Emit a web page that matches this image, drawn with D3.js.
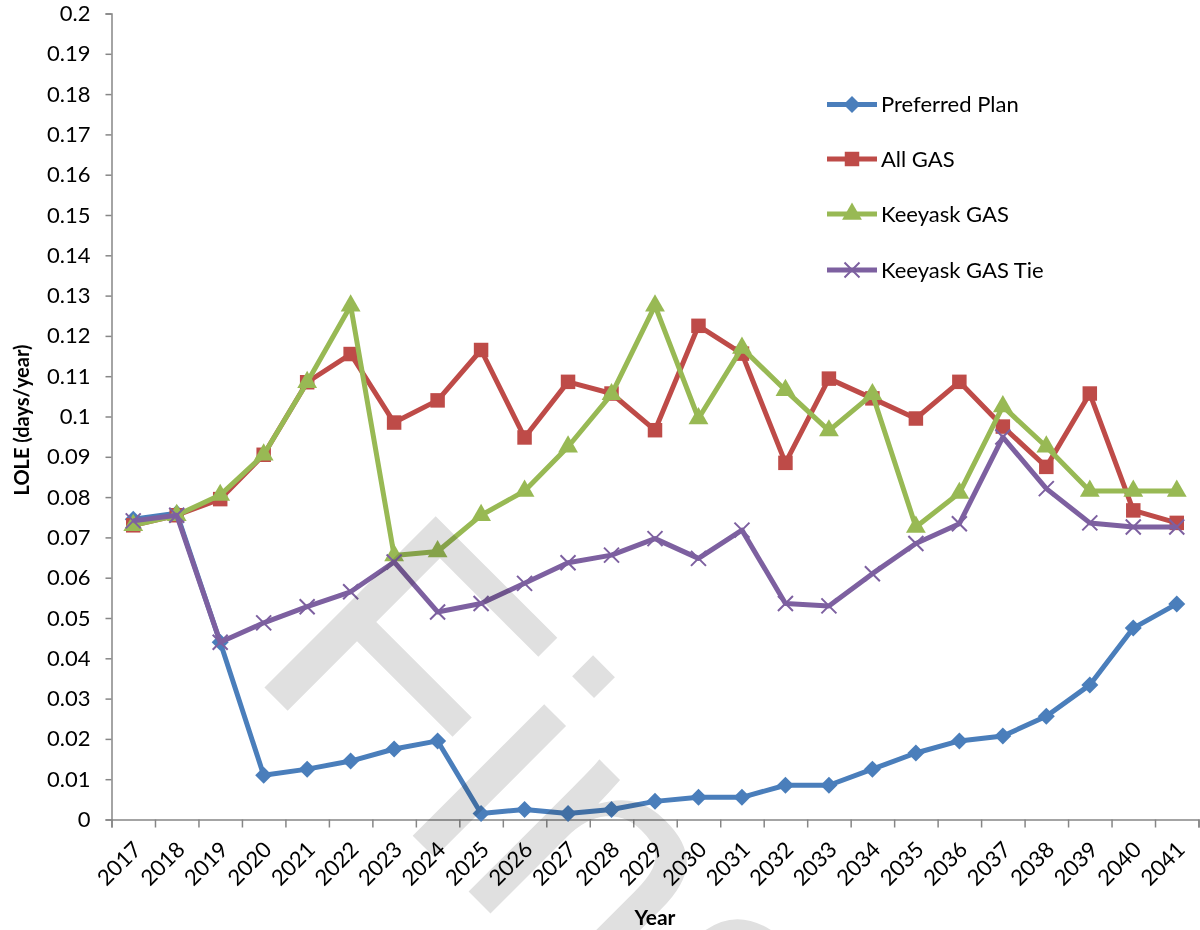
<!DOCTYPE html>
<html>
<head>
<meta charset="utf-8">
<script src="https://cdn.jsdelivr.net/npm/d3@7"></script>
<style>
  html, body { margin: 0; padding: 0; background: #fff; }
  svg { display: block; font-family: Lato, "Open Sans", sans-serif; }
</style>
</head>
<body>
<svg id="chart" width="1200" height="930"></svg>
<script>
// Loss of load expectation by year for four resource plans
const years = ["2017","2018","2019","2020","2021","2022","2023","2024","2025","2026","2027","2028","2029",
               "2030","2031","2032","2033","2034","2035","2036","2037","2038","2039","2040","2041"];

const preferredPlan = [0.0745, 0.076, 0.044, 0.011, 0.0125, 0.0145, 0.0175, 0.0195, 0.0015, 0.0025, 0.0015, 0.0025, 0.0045,
                       0.0055, 0.0055, 0.0085, 0.0085, 0.0125, 0.0165, 0.0195, 0.0207, 0.0256, 0.0334, 0.0475, 0.0535];
const allGas        = [0.073, 0.0755, 0.0795, 0.0905, 0.1085, 0.1155, 0.0985, 0.104, 0.1165, 0.0948, 0.1086, 0.1057, 0.0966,
                       0.1225, 0.1156, 0.0885, 0.1094, 0.1045, 0.0995, 0.1086, 0.0975, 0.0875, 0.1057, 0.0767, 0.0736];
const keeyaskGas    = [0.073, 0.0755, 0.0805, 0.0905, 0.1085, 0.1275, 0.0655, 0.0665, 0.0755, 0.0815, 0.0925, 0.1055, 0.1275,
                       0.0995, 0.117, 0.1065, 0.0965, 0.1055, 0.0726, 0.081, 0.1025, 0.0925, 0.0815, 0.0815, 0.0815];
const keeyaskGasTie = [0.0741, 0.0755, 0.044, 0.0488, 0.0528, 0.0565, 0.0639, 0.0515, 0.0536, 0.0586, 0.0637, 0.0656, 0.0697,
                       0.0648, 0.0718, 0.0536, 0.053, 0.061, 0.0685, 0.0734, 0.0949, 0.0821, 0.0736, 0.0726, 0.0726];

const seriesNames = ["Preferred Plan", "All GAS", "Keeyask GAS", "Keeyask GAS Tie"];
const seriesColors = ["#4a7ebb", "#be4b48", "#98b954", "#7d60a0"];
const seriesMarkers = ["diamond", "square", "triangle", "cross"];

const yTicks = [0, 0.01, 0.02, 0.03, 0.04, 0.05, 0.06, 0.07, 0.08, 0.09, 0.1,
                0.11, 0.12, 0.13, 0.14, 0.15, 0.16, 0.17, 0.18, 0.19, 0.2];

const yTitle = "LOLE (days/year)";
const xTitle = "Year";
const stampText = "Final";

const series = [preferredPlan, allGas, keeyaskGas, keeyaskGasTie].map((values, i) => ({
  name: seriesNames[i], color: seriesColors[i], marker: seriesMarkers[i], values
}));

const svg = d3.select("#chart");
svg.append("rect").attr("width", 1200).attr("height", 930).attr("fill", "#fff");

const plot = { left: 111.5, right: 1198.5, top: 13.5, bottom: 819.5 };

const x = d3.scaleBand().domain(years).range([plot.left, plot.right]);
const xEdge = d3.scaleLinear().domain([0, years.length]).range([plot.left, plot.right]);
const y = d3.scaleLinear().domain([0, 0.2]).range([plot.bottom, plot.top]);
const cx = d => x(d) + x.bandwidth() / 2;

const axisColor = "#868686";
const labelSize = 22;

// Y axis
const yAxis = svg.append("g")
  .attr("transform", `translate(${plot.left},0)`)
  .call(d3.axisLeft(y).tickValues(yTicks).tickSize(6).tickSizeOuter(6).tickPadding(15)
        .tickFormat(v => String(+v.toFixed(2))));
yAxis.selectAll("path, line").attr("stroke", axisColor).attr("stroke-width", 1.5);
yAxis.selectAll("text").attr("fill", "#000").attr("font-size", labelSize).attr("font-family", "Lato, sans-serif");

// X axis: ticks at category boundaries
const xAxis = svg.append("g")
  .attr("transform", `translate(0,${plot.bottom})`)
  .call(d3.axisBottom(xEdge).tickValues(d3.range(years.length + 1)).tickSize(8).tickSizeOuter(8).tickFormat(""));
xAxis.selectAll("path, line").attr("stroke", axisColor).attr("stroke-width", 1.5);

// Rotated year labels
svg.append("g").selectAll("text")
  .data(years)
  .join("text")
  .attr("transform", d => `translate(${cx(d) + 4},${plot.bottom + 26}) rotate(-45)`)
  .attr("text-anchor", "end")
  .attr("dy", "0.35em")
  .attr("font-size", labelSize)
  .attr("fill", "#000")
  .text(d => d);

// Axis titles
svg.append("text")
  .attr("x", 655).attr("y", 925)
  .attr("text-anchor", "middle")
  .attr("font-size", 21).attr("font-weight", "bold")
  .text(xTitle);

svg.append("text")
  .attr("transform", "translate(29,420) rotate(-90)")
  .attr("text-anchor", "middle")
  .attr("font-size", 20).attr("font-weight", "bold")
  .text(yTitle);

// Marker shapes
function drawMarker(sel, kind, color) {
  if (kind === "diamond") {
    sel.append("path").attr("d", "M0,-8.5L8.5,0L0,8.5L-8.5,0Z").attr("fill", color);
  } else if (kind === "square") {
    sel.append("path").attr("d", d3.symbol(d3.symbolSquare, 210)()).attr("fill", color);
  } else if (kind === "triangle") {
    sel.append("path").attr("d", d3.symbol(d3.symbolTriangle, 170)()).attr("fill", color);
  } else {
    sel.append("path").attr("d", "M-7.5,-7.5L7.5,7.5M-7.5,7.5L7.5,-7.5")
      .attr("stroke", color).attr("stroke-width", 2).attr("fill", "none");
  }
}

// Lines and markers
const line = d3.line().x((d, i) => cx(years[i])).y(d => y(d));
const seriesG = svg.append("g");
series.forEach(s => {
  const g = seriesG.append("g");
  g.append("path")
    .attr("d", line(s.values))
    .attr("fill", "none")
    .attr("stroke", s.color)
    .attr("stroke-width", 5)
    .attr("stroke-linejoin", "round");
  s.values.forEach((v, i) => {
    const m = g.append("g").attr("transform", `translate(${cx(years[i])},${y(v)})`);
    drawMarker(m, s.marker, s.color);
  });
});

// Legend
const legend = svg.append("g");
const legendY = [104.5, 159, 214, 270];
series.forEach((s, i) => {
  const g = legend.append("g").attr("transform", `translate(0,${legendY[i]})`);
  g.append("line").attr("x1", 827).attr("x2", 877).attr("y1", 0).attr("y2", 0)
    .attr("stroke", s.color).attr("stroke-width", 5);
  const m = g.append("g").attr("transform", "translate(852,0)");
  drawMarker(m, s.marker, s.color);
  g.append("text").attr("x", 881).attr("y", 0).attr("dy", "0.35em")
    .attr("font-size", labelSize).attr("fill", "#000").text(s.name);
});

// Diagonal stamp across the lower plot area
svg.append("text")
  .attr("transform", "translate(244,667) rotate(45)")
  .attr("font-family", "'Liberation Sans', Arial, sans-serif")
  .attr("font-size", 352)
  .attr("fill", "#e0e0e0")
  .style("mix-blend-mode", "multiply")
  .text(stampText);
</script>
</body>
</html>
